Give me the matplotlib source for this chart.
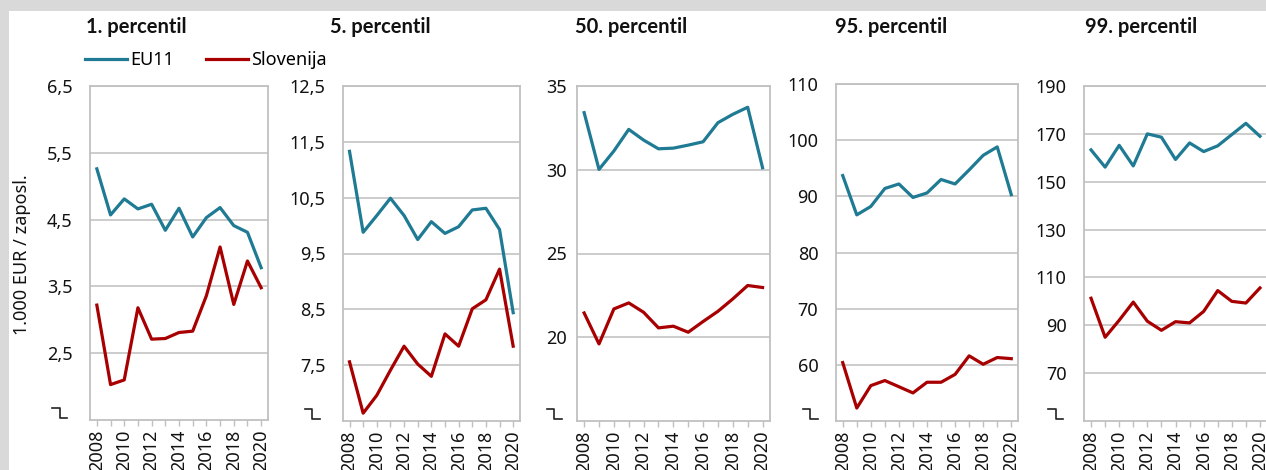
import matplotlib
matplotlib.use("Agg")
import matplotlib.pyplot as plt
from matplotlib.patches import Rectangle
from matplotlib.lines import Line2D
from matplotlib.transforms import ScaledTranslation

plt.rcParams['font.family'] = ['Noto Sans', 'DejaVu Sans']

years = list(range(2008, 2021))

titles = ["1. percentil", "5. percentil", "50. percentil", "95. percentil", "99. percentil"]
series_names = ["EU11", "Slovenija"]
ylabel = "1.000 EUR / zaposl."

eu11_p1 = [5.26, 4.57, 4.81, 4.66, 4.73, 4.34, 4.67, 4.24, 4.53, 4.68, 4.41, 4.31, 3.78]
slo_p1 = [3.22, 2.03, 2.10, 3.18, 2.71, 2.72, 2.81, 2.83, 3.36, 4.09, 3.23, 3.88, 3.48]

eu11_p5 = [11.33, 9.88, 10.18, 10.49, 10.18, 9.75, 10.07, 9.86, 9.98, 10.28, 10.31, 9.93, 8.44]
slo_p5 = [7.56, 6.64, 6.96, 7.41, 7.84, 7.52, 7.30, 8.06, 7.84, 8.51, 8.67, 9.22, 7.84]

eu11_p50 = [33.41, 30.02, 31.12, 32.41, 31.77, 31.25, 31.29, 31.47, 31.67, 32.81, 33.31, 33.73, 30.12]
slo_p50 = [21.45, 19.60, 21.69, 22.05, 21.49, 20.56, 20.66, 20.30, 20.94, 21.55, 22.29, 23.09, 22.97]

eu11_p95 = [93.7, 86.7, 88.2, 91.4, 92.2, 89.8, 90.6, 93.0, 92.2, 94.7, 97.3, 98.8, 90.3]
slo_p95 = [60.4, 52.3, 56.3, 57.2, 56.1, 55.0, 56.9, 56.9, 58.3, 61.6, 60.1, 61.3, 61.1]

eu11_p99 = [163.3, 156.1, 165.2, 156.6, 170.0, 168.6, 159.3, 166.2, 162.6, 165.0, 169.7, 174.4, 169.0]
slo_p99 = [101.3, 85.0, 92.1, 99.7, 91.7, 87.9, 91.5, 91.0, 95.8, 104.5, 100.0, 99.3, 105.6]

eu11_all = [eu11_p1, eu11_p5, eu11_p50, eu11_p95, eu11_p99]
slo_all = [slo_p1, slo_p5, slo_p50, slo_p95, slo_p99]

yticks_all = [
    [2.5, 3.5, 4.5, 5.5, 6.5],
    [7.5, 8.5, 9.5, 10.5, 11.5, 12.5],
    [20, 25, 30, 35],
    [60, 70, 80, 90, 100, 110],
    [70, 90, 110, 130, 150, 170, 190],
]
ytick_labels_all = [
    ["2,5", "3,5", "4,5", "5,5", "6,5"],
    ["7,5", "8,5", "9,5", "10,5", "11,5", "12,5"],
    ["20", "25", "30", "35"],
    ["60", "70", "80", "90", "100", "110"],
    ["70", "90", "110", "130", "150", "170", "190"],
]
ybottom_all = [1.5, 6.5, 15, 50, 50]

# layout (pixels)
W, H = 1266, 470
boxes = [  # left, right, top, bottom
    (90, 268, 86, 420),
    (342.7, 520, 86, 421),
    (576.7, 770, 86, 421),
    (835.7, 1018.3, 84, 421),
    (1084, 1267, 86, 421),
]
title_x = [86, 330, 575, 835, 1085]
ylab_pad = [12.5, 12.5, 7, 12.5, 12.5]
break_right = [23, 23, 15, 18, 21]

teal = "#1f7a93"
red = "#a80000"
grid_c = "#c8c8c8"
spine_c = "#c0c0c0"

fig = plt.figure(figsize=(W / 100, H / 100), dpi=100)
fig.patch.set_facecolor("#d9d9d9")
fig.patches.append(Rectangle((9 / W, 0), 1, 1 - 11 / H, transform=fig.transFigure,
                             facecolor="white", edgecolor="none", zorder=-10))

axes = []
for i in range(5):
    l, r, t, b = boxes[i]
    ax = fig.add_axes([l / W, 1 - b / H, (r - l) / W, (b - t) / H])
    axes.append(ax)
    ax.plot(years, eu11_all[i], color=teal, lw=2.3, label=series_names[0], zorder=3)
    ax.plot(years, slo_all[i], color=red, lw=2.3, label=series_names[1], zorder=3)
    ax.set_xlim(2007.5, 2020.5)
    ax.set_ylim(ybottom_all[i], yticks_all[i][-1])
    ax.set_yticks(yticks_all[i])
    ax.set_yticklabels(ytick_labels_all[i])
    ax.tick_params(axis='y', length=0, pad=ylab_pad[i], labelsize=13, labelcolor="#111111")
    ax.set_xticks(years[::2])
    ax.set_xticklabels([str(y) for y in years[::2]], rotation=90)
    ax.set_xticks(years, minor=True)
    ax.tick_params(axis='x', which='both', length=4, width=1, color=spine_c,
                   pad=3, labelsize=13, labelcolor="#111111")
    ax.grid(axis='y', color=grid_c, lw=1.3, zorder=1)
    ax.set_axisbelow(True)
    for s in ax.spines.values():
        s.set_color(spine_c)
        s.set_linewidth(1.3)
    # axis break symbol
    px = 1 / 100.0
    rr = break_right[i]
    xs = [-(rr + 15) * px, -(rr + 7.5) * px, -(rr + 7.5) * px, -rr * px]
    ys = [12 * px, 12 * px, 2 * px, 2 * px]
    tr = fig.dpi_scale_trans + ScaledTranslation(0, 0, ax.transAxes)
    fig.add_artist(Line2D(xs, ys, transform=tr, color="#222222", lw=1.2))
    fig.text(title_x[i] / W, 1 - 27 / H, titles[i], fontsize=14.5, fontweight='bold',
             family=['Lato', 'DejaVu Sans'], ha='left', va='center', color="#111111")

axes[0].legend(loc='center left', bbox_to_anchor=(85 / W, 1 - 60 / H),
               bbox_transform=fig.transFigure, ncol=2, frameon=False, fontsize=13,
               handlelength=2.3, handletextpad=0.2, columnspacing=1.8,
               borderpad=0, borderaxespad=0)
fig.text(22 / W, 1 - 255 / H, ylabel, rotation=90, ha='center', va='center',
         fontsize=13, color="#111111")

fig.savefig("out.png", dpi=100, facecolor=fig.get_facecolor())
